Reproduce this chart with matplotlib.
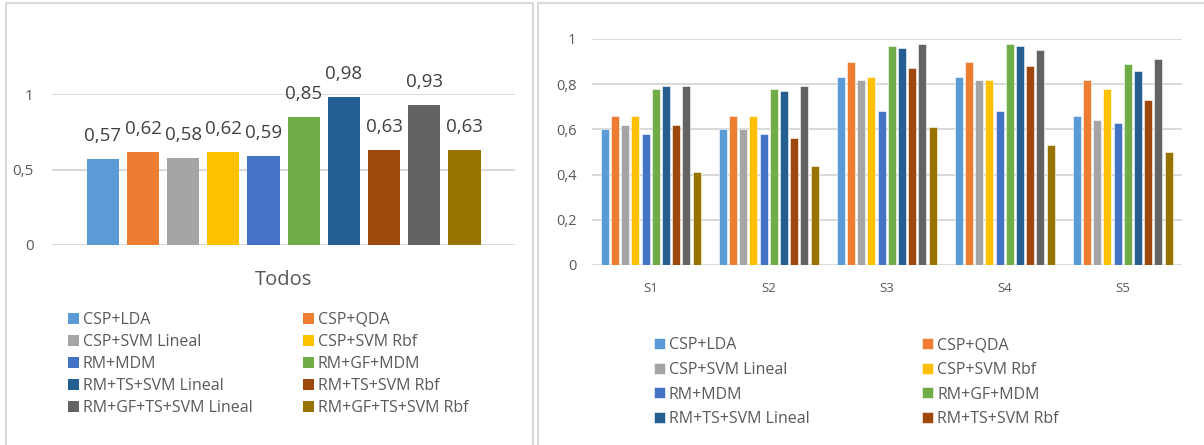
import numpy as np
import matplotlib.pyplot as plt
from matplotlib.patches import Rectangle

plt.rcParams['font.family'] = ['Open Sans', 'DejaVu Sans']

W, H = 1204, 445

# --- datos ---
metodos = ['CSP+LDA', 'CSP+QDA', 'CSP+SVM Lineal', 'CSP+SVM Rbf', 'RM+MDM',
           'RM+GF+MDM', 'RM+TS+SVM Lineal', 'RM+TS+SVM Rbf',
           'RM+GF+TS+SVM Lineal', 'RM+GF+TS+SVM Rbf']
colores = ['#5B9BD5', '#ED7D31', '#A5A5A5', '#FFC000', '#4472C4',
           '#70AD47', '#255E91', '#9E480E', '#636363', '#997300']

todos = [0.57, 0.62, 0.58, 0.62, 0.59, 0.85, 0.98, 0.63, 0.93, 0.63]

sujetos = ['S1', 'S2', 'S3', 'S4', 'S5']
s1 = [0.60, 0.66, 0.62, 0.66, 0.58, 0.78, 0.79, 0.62, 0.79, 0.41]
s2 = [0.60, 0.66, 0.60, 0.66, 0.58, 0.78, 0.77, 0.56, 0.79, 0.44]
s3 = [0.83, 0.90, 0.82, 0.83, 0.68, 0.97, 0.96, 0.87, 0.98, 0.61]
s4 = [0.83, 0.90, 0.82, 0.82, 0.68, 0.98, 0.97, 0.88, 0.95, 0.53]
s5 = [0.66, 0.82, 0.64, 0.78, 0.63, 0.89, 0.86, 0.73, 0.91, 0.50]
por_sujeto = np.array([s1, s2, s3, s4, s5])  # filas = sujetos

GRIS = '#595959'
GRID = '#D9D9D9'

fig = plt.figure(figsize=(W / 100, H / 100), dpi=100)

# marcos de los dos graficos
fig.add_artist(Rectangle((6 / W, -0.1), (533 - 6) / W, 1.1 - 3 / H,
                         transform=fig.transFigure, fill=False,
                         edgecolor=GRID, linewidth=1.5))
fig.add_artist(Rectangle((538 / W, -0.1), 1.0, 1.1 - 3 / H,
                         transform=fig.transFigure, fill=False,
                         edgecolor=GRID, linewidth=1.5))


def estilo(ax):
    for s in ax.spines.values():
        s.set_visible(False)
    ax.yaxis.grid(True, color=GRID, linewidth=1.4)
    ax.set_axisbelow(True)
    ax.tick_params(length=0, colors=GRIS)


# --- grafico izquierdo: Todos ---
ax1 = fig.add_axes([51.7 / W, 1 - 245 / H, (514.8 - 51.7) / W, (245 - 94.3) / H])
estilo(ax1)
x = np.arange(len(todos))
barras1 = []
for i, v in enumerate(todos):
    b = ax1.bar(x[i], v, width=0.8, color=colores[i], label=metodos[i])
    barras1.append(b)
    ax1.annotate(f'{v:.2f}'.replace('.', ','), (x[i], v), xytext=(0, 10),
                 textcoords='offset points', ha='center', va='bottom',
                 fontsize=13.5, color='#404040')
ax1.set_xlim(-1.27, 10.25)
ax1.set_ylim(0, 1)
ax1.set_yticks([0, 0.5, 1])
ax1.set_yticklabels(['0', '0,5', '1'], fontsize=11)
ax1.tick_params(axis='y', pad=13)
ax1.set_xticks([4.5])
ax1.set_xticklabels(['Todos'], fontsize=14.5)
ax1.tick_params(axis='x', pad=18)

orden = [0, 2, 4, 6, 8, 1, 3, 5, 7, 9]
fig.legend([barras1[i] for i in orden], [metodos[i] for i in orden],
           loc='upper left', bbox_to_anchor=(68 / W, 1 - 312 / H), ncol=2,
           frameon=False, fontsize=11.5, labelcolor=GRIS, borderpad=0,
           handlelength=0.68, handleheight=0.68, handletextpad=0.25,
           columnspacing=3.15, labelspacing=0.38, borderaxespad=0)

# --- grafico derecho: por sujeto ---
ax2 = fig.add_axes([591.7 / W, 1 - 265 / H, (1181.7 - 591.7) / W, (265 - 39) / H])
estilo(ax2)
g = np.arange(len(sujetos))
paso = 10.2 / 118
barras2 = []
for i in range(len(metodos)):
    b = ax2.bar(g + (i - 4.5) * paso, por_sujeto[:, i], width=paso * 0.8,
                color=colores[i], edgecolor='white', linewidth=0.4,
                label=metodos[i])
    barras2.append(b)
ax2.set_xlim(-0.5, 4.5)
ax2.set_ylim(0, 1)
ax2.set_yticks([0, 0.2, 0.4, 0.6, 0.8, 1])
ax2.set_yticklabels(['0', '0,2', '0,4', '0,6', '0,8', '1'], fontsize=10.5)
ax2.tick_params(axis='y', pad=11)
ax2.set_xticks(g)
ax2.set_xticklabels(sujetos, fontsize=9.5)
ax2.tick_params(axis='x', pad=12)

orden2 = [0, 2, 4, 6, 1, 3, 5, 7]
fig.legend([barras2[i] for i in orden2], [metodos[i] for i in orden2],
           loc='upper left', bbox_to_anchor=(654 / W, 1 - 337 / H), ncol=2,
           frameon=False, fontsize=11.5, labelcolor=GRIS, borderpad=0,
           handlelength=0.68, handleheight=0.68, handletextpad=0.25,
           columnspacing=7.05, labelspacing=0.55, borderaxespad=0)

fig.savefig('out.png', dpi=100)
